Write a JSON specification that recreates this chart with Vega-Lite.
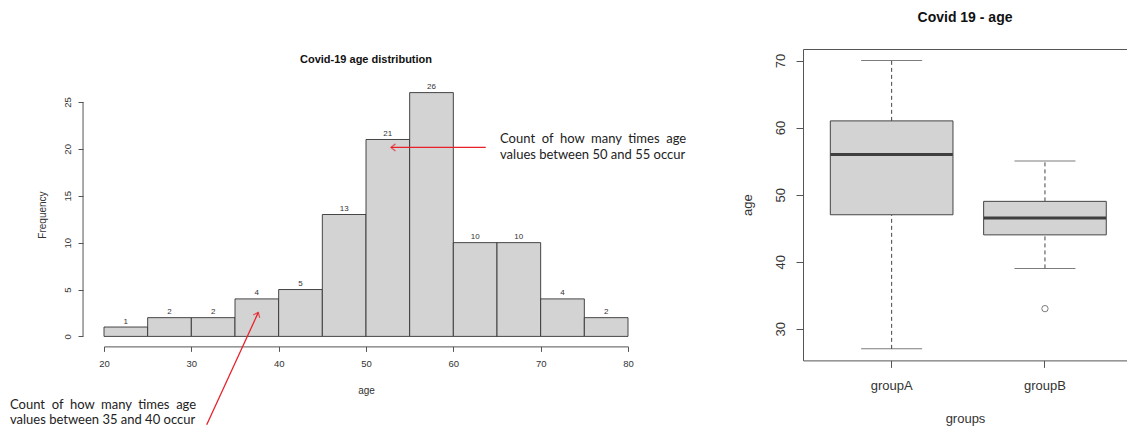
{
  "$schema": "https://vega.github.io/schema/vega-lite/v6.json",
  "padding": {"left": 10, "top": 10, "right": 0, "bottom": 0},
  "background": "white",
  "spacing": 53,
  "config": {
    "view": {"stroke": null},
    "font": "Liberation Sans",
    "axis": {"grid": false, "labelFont": "Liberation Sans", "titleFont": "Liberation Sans", "titleFontWeight": "normal", "labelColor": "#333", "titleColor": "#333", "domainColor": "#555", "tickColor": "#555"}
  },
  "datasets": {
    "hist": [
      {"bin_start": 20, "bin_end": 25, "count": 1},
      {"bin_start": 25, "bin_end": 30, "count": 2},
      {"bin_start": 30, "bin_end": 35, "count": 2},
      {"bin_start": 35, "bin_end": 40, "count": 4},
      {"bin_start": 40, "bin_end": 45, "count": 5},
      {"bin_start": 45, "bin_end": 50, "count": 13},
      {"bin_start": 50, "bin_end": 55, "count": 21},
      {"bin_start": 55, "bin_end": 60, "count": 26},
      {"bin_start": 60, "bin_end": 65, "count": 10},
      {"bin_start": 65, "bin_end": 70, "count": 10},
      {"bin_start": 70, "bin_end": 75, "count": 4},
      {"bin_start": 75, "bin_end": 80, "count": 2}
    ],
    "yaxisline": [
      {"x": 17.6, "y": 0, "y2": 25}
    ],
    "notes": [
      {"ax": 65.35, "ay": 21.04, "label": "Count \u00a0of \u00a0how \u00a0many \u00a0times \u00a0age\nvalues between 50 and 55 occur"},
      {"ax": 9.24, "ay": -7.28, "label": "Count \u00a0of \u00a0how \u00a0many \u00a0times \u00a0age\nvalues between 35 and 40 occur"}
    ],
    "arrows": [
      {"ax": 63.71, "ay": 20.15, "bx": 52.86, "by": 20.15},
      {"ax": 31.76, "ay": -9.42, "bx": 37.67, "by": 2.56}
    ],
    "box": [
      {"group": "groupA", "min": 27, "q1": 47, "median": 56, "q3": 61, "max": 70},
      {"group": "groupB", "min": 39, "q1": 44, "median": 46.5, "q3": 49, "max": 55}
    ],
    "outliers": [
      {"group": "groupB", "age": 33}
    ]
  },
  "hconcat": [
    {
      "width": 524,
      "height": 287.4,
      "title": {"text": "Covid-19 age distribution", "fontSize": 11, "fontWeight": "bold", "font": "Liberation Sans", "color": "#111", "frame": "group", "offset": -16},
      "layer": [
        {
          "data": {"name": "hist"},
          "mark": {"type": "bar", "fill": "#d3d3d3", "stroke": "#333", "strokeWidth": 0.9},
          "encoding": {
            "x": {"field": "bin_start", "type": "quantitative", "title": "age",
                  "scale": {"domain": [20, 80], "nice": false, "zero": false},
                  "axis": {"values": [20, 30, 40, 50, 60, 70, 80], "offset": 10, "tickSize": 5, "labelFontSize": 9.5, "titleFontSize": 10, "labelPadding": 7, "titlePadding": 18, "labelFlush": false}},
            "x2": {"field": "bin_end"},
            "y": {"field": "count", "type": "quantitative", "title": "Frequency",
                  "scale": {"domain": [0, 30.65], "nice": false, "zero": false},
                  "axis": {"values": [0, 5, 10, 15, 20, 25], "offset": 21, "domain": false, "tickSize": 5, "labelAngle": -90, "labelAlign": "center", "labelBaseline": "bottom", "labelFontSize": 9.5, "titleFontSize": 10, "labelPadding": 6, "titlePadding": 15, "titleY": 165.5}},
            "y2": {"datum": 0}
          }
        },
        {
          "data": {"name": "yaxisline"},
          "mark": {"type": "rule", "color": "#555", "strokeWidth": 1},
          "encoding": {
            "x": {"field": "x", "type": "quantitative", "title": "age", "scale": {"domain": [20, 80], "nice": false, "zero": false}},
            "y": {"field": "y", "type": "quantitative", "title": "Frequency", "scale": {"domain": [0, 30.65], "nice": false, "zero": false}},
            "y2": {"field": "y2"}
          }
        },
        {
          "data": {"name": "hist"},
          "mark": {"type": "text", "dx": 21.8, "dy": -1.5, "baseline": "bottom", "fontSize": 8, "color": "#333"},
          "encoding": {
            "x": {"field": "bin_start", "type": "quantitative", "title": "age", "scale": {"domain": [20, 80], "nice": false, "zero": false}},
            "y": {"field": "count", "type": "quantitative", "title": "Frequency", "scale": {"domain": [0, 30.65], "nice": false, "zero": false}},
            "text": {"field": "count", "type": "quantitative"}
          }
        },
        {
          "data": {"name": "arrows"},
          "mark": {"type": "rule", "color": "#e8202a", "strokeWidth": 1.3},
          "encoding": {
            "x": {"field": "ax", "type": "quantitative", "title": "age", "scale": {"domain": [20, 80], "nice": false, "zero": false}},
            "y": {"field": "ay", "type": "quantitative", "title": "Frequency", "scale": {"domain": [0, 30.65], "nice": false, "zero": false}},
            "x2": {"field": "bx"},
            "y2": {"field": "by"}
          }
        },
        {
          "data": {"name": "arrows"},
          "transform": [{"filter": "datum.ay === datum.by"}],
          "mark": {"type": "point", "shape": "M-1,-0.8L0,0L-1,0.8", "filled": false, "stroke": "#e8202a", "strokeWidth": 1.3, "size": 80, "angle": 180},
          "encoding": {
            "x": {"field": "bx", "type": "quantitative", "title": "age", "scale": {"domain": [20, 80], "nice": false, "zero": false}},
            "y": {"field": "by", "type": "quantitative", "title": "Frequency", "scale": {"domain": [0, 30.65], "nice": false, "zero": false}}
          }
        },
        {
          "data": {"name": "arrows"},
          "transform": [{"filter": "datum.ay !== datum.by"}],
          "mark": {"type": "point", "shape": "M-1,-0.8L0,0L-1,0.8", "filled": false, "stroke": "#e8202a", "strokeWidth": 1.3, "size": 80, "angle": 294.7},
          "encoding": {
            "x": {"field": "bx", "type": "quantitative", "title": "age", "scale": {"domain": [20, 80], "nice": false, "zero": false}},
            "y": {"field": "by", "type": "quantitative", "title": "Frequency", "scale": {"domain": [0, 30.65], "nice": false, "zero": false}}
          }
        },
        {
          "data": {"name": "notes"},
          "mark": {"type": "text", "align": "left", "baseline": "middle", "lineBreak": "\n", "font": "Lato", "fontSize": 13, "lineHeight": 15.7, "color": "#222"},
          "encoding": {
            "x": {"field": "ax", "type": "quantitative", "title": "age", "scale": {"domain": [20, 80], "nice": false, "zero": false}},
            "y": {"field": "ay", "type": "quantitative", "title": "Frequency", "scale": {"domain": [0, 30.65], "nice": false, "zero": false}},
            "text": {"field": "label", "type": "nominal"}
          }
        }
      ]
    },
    {
      "width": 324,
      "height": 311.4,
      "view": {"stroke": "#555", "strokeWidth": 1},
      "title": {"text": "Covid 19 - age", "fontSize": 14, "fontWeight": "bold", "font": "Liberation Sans", "color": "#111", "frame": "group", "offset": 24},
      "encoding": {
        "x": {"field": "group", "type": "nominal", "title": "groups",
              "scale": {"domain": ["groupA", "groupB"], "paddingInner": 0, "paddingOuter": 0.0567, "align": 0.69},
              "axis": {"labelAngle": 0, "domain": false, "tickSize": 7, "labelFontSize": 13, "titleFontSize": 13, "labelPadding": 12, "titlePadding": 20}}
      },
      "layer": [
        {
          "data": {"name": "box"},
          "mark": {"type": "rule", "color": "#444", "strokeDash": [4, 3], "strokeWidth": 1},
          "encoding": {
            "y": {"field": "min", "type": "quantitative", "title": "age",
                  "scale": {"domain": [25.28, 71.72], "nice": false, "zero": false},
                  "axis": {"values": [30, 40, 50, 60, 70], "domain": false, "tickSize": 7, "labelAngle": -90, "labelAlign": "center", "labelBaseline": "bottom", "labelFontSize": 13, "titleFontSize": 13, "labelPadding": 9, "titlePadding": 20}},
            "y2": {"field": "q1"}
          }
        },
        {
          "data": {"name": "box"},
          "mark": {"type": "rule", "color": "#444", "strokeDash": [4, 3], "strokeWidth": 1},
          "encoding": {
            "y": {"field": "q3", "type": "quantitative", "title": "age"},
            "y2": {"field": "max"}
          }
        },
        {
          "data": {"name": "box"},
          "mark": {"type": "tick", "color": "#444", "size": 61, "thickness": 1},
          "encoding": {"y": {"field": "min", "type": "quantitative", "title": "age"}}
        },
        {
          "data": {"name": "box"},
          "mark": {"type": "tick", "color": "#444", "size": 61, "thickness": 1},
          "encoding": {"y": {"field": "max", "type": "quantitative", "title": "age"}}
        },
        {
          "data": {"name": "box"},
          "mark": {"type": "bar", "fill": "#d3d3d3", "stroke": "#444", "strokeWidth": 1, "width": {"band": 0.8}},
          "encoding": {
            "y": {"field": "q1", "type": "quantitative", "title": "age"},
            "y2": {"field": "q3"}
          }
        },
        {
          "data": {"name": "box"},
          "mark": {"type": "tick", "color": "#000", "size": 122, "thickness": 3},
          "encoding": {"y": {"field": "median", "type": "quantitative", "title": "age"}}
        },
        {
          "data": {"name": "outliers"},
          "mark": {"type": "point", "shape": "circle", "filled": false, "color": "#444", "size": 40, "strokeWidth": 1},
          "encoding": {"y": {"field": "age", "type": "quantitative", "title": "age"}}
        }
      ]
    }
  ]
}
